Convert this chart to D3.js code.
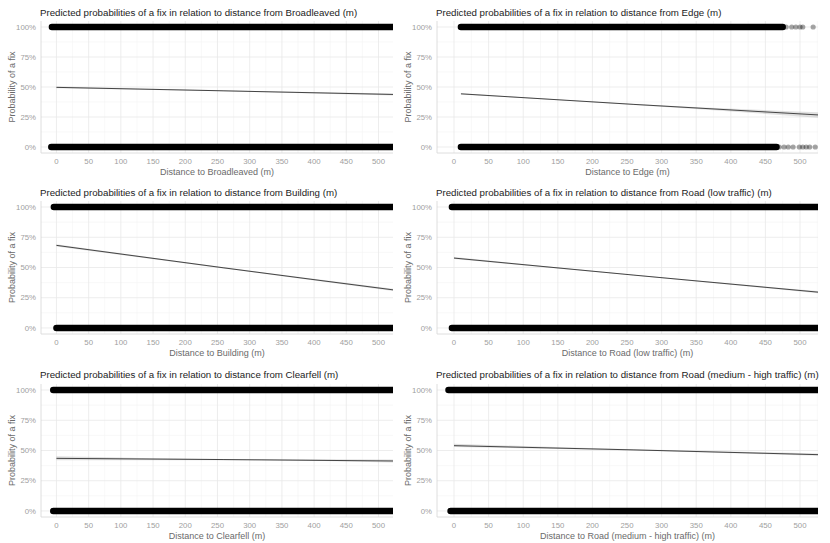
<!DOCTYPE html>
<html>
<head>
<meta charset="utf-8">
<script src="https://cdn.jsdelivr.net/npm/d3@7"></script>
<style>
  body { margin: 0; background: #fff; }
  text { font-family: "Liberation Sans", Arial, sans-serif; }
</style>
</head>
<body>
<div id="chart"></div>
<script>
// predictor names, one per panel (row by row)
const predictors = ["Broadleaved", "Edge", "Building", "Road (low traffic)", "Clearfell", "Road (medium - high traffic)"];

// fitted curve: x, fitted probability, lower and upper band
const predX = [
  [0, 260, 530], [10, 260, 530], [0, 260, 530],
  [0, 260, 530], [0, 260, 530], [0, 260, 530]
];
const predFit = [
  [0.497, 0.468, 0.437], [0.443, 0.355, 0.266], [0.683, 0.497, 0.310],
  [0.578, 0.437, 0.294], [0.435, 0.425, 0.413], [0.540, 0.505, 0.465]
];
const predLo = [
  [0.489, 0.464, 0.429], [0.438, 0.351, 0.243], [0.673, 0.492, 0.300],
  [0.570, 0.433, 0.285], [0.420, 0.420, 0.400], [0.528, 0.500, 0.455]
];
const predHi = [
  [0.505, 0.472, 0.445], [0.448, 0.359, 0.289], [0.693, 0.502, 0.320],
  [0.586, 0.441, 0.303], [0.452, 0.430, 0.426], [0.555, 0.510, 0.475]
];

// extent of the dense runs of observed fixes (1) and no-fixes (0)
const fixRuns = [[-7, 540], [10, 475], [-4, 540], [-3, 540], [-5, 540], [-8, 540]];
const noFixRuns = [[-8, 540], [10, 466], [0, 540], [-3, 540], [-5, 540], [-5, 540]];

// sparse tail points in the Edge panel
const edgeFixTail = [480, 488, 494, 500, 504, 519];
const edgeNoFixTail = [470, 477, 483, 490, 499, 504, 509, 514, 522];

const yTicks = [0, 0.25, 0.5, 0.75, 1];
const xTicks = d3.range(0, 501, 50);

const W = 830, H = 543;
const cols = [
  { x0: 41, x1: 393, dom: [-24, 522.5] },
  { x0: 437, x1: 818, dom: [-24.6, 526] }
];
const rows = [
  { top: 21, bottom: 153, title: 16 },
  { top: 201, bottom: 334, title: 196 },
  { top: 384, bottom: 517, title: 378 }
];

const svg = d3.select("#chart").append("svg")
  .attr("width", W).attr("height", H)
  .attr("viewBox", [0, 0, W, H]);

predictors.forEach((name, i) => {
  const c = cols[i % 2], r = rows[Math.floor(i / 2)];
  const x = d3.scaleLinear().domain(c.dom).range([c.x0, c.x1]);
  const y = d3.scaleLinear().domain([-0.05, 1.05]).range([r.bottom, r.top]);
  const g = svg.append("g");

  const clipId = `clip${i}`;
  svg.append("clipPath").attr("id", clipId)
    .append("rect")
    .attr("x", c.x0).attr("y", r.top)
    .attr("width", c.x1 - c.x0).attr("height", r.bottom - r.top);

  // minor grid
  const xMinor = d3.range(-25, 530, 50).filter(v => v > c.dom[0] && v < c.dom[1]);
  const yMinor = [-0.125, 0.125, 0.375, 0.625, 0.875, 1.125].filter(v => v > -0.05 && v < 1.05);
  g.append("g").selectAll("line").data(xMinor).join("line")
    .attr("x1", d => x(d)).attr("x2", d => x(d))
    .attr("y1", r.top).attr("y2", r.bottom)
    .attr("stroke", "#f3f3f3").attr("stroke-width", 0.6);
  g.append("g").selectAll("line").data(yMinor).join("line")
    .attr("x1", c.x0).attr("x2", c.x1)
    .attr("y1", d => y(d)).attr("y2", d => y(d))
    .attr("stroke", "#f3f3f3").attr("stroke-width", 0.6);
  // major grid
  g.append("g").selectAll("line").data(xTicks).join("line")
    .attr("x1", d => x(d)).attr("x2", d => x(d))
    .attr("y1", r.top).attr("y2", r.bottom)
    .attr("stroke", "#e9e9e9").attr("stroke-width", 0.8);
  g.append("g").selectAll("line").data(yTicks).join("line")
    .attr("x1", c.x0).attr("x2", c.x1)
    .attr("y1", d => y(d)).attr("y2", d => y(d))
    .attr("stroke", "#e9e9e9").attr("stroke-width", 0.8);

  // axis lines (left, bottom)
  g.append("line")
    .attr("x1", c.x0).attr("x2", c.x0).attr("y1", r.top).attr("y2", r.bottom)
    .attr("stroke", "#d6d6d6").attr("stroke-width", 0.8);
  g.append("line")
    .attr("x1", c.x0).attr("x2", c.x1).attr("y1", r.bottom).attr("y2", r.bottom)
    .attr("stroke", "#d6d6d6").attr("stroke-width", 0.8);

  const plot = g.append("g").attr("clip-path", `url(#${clipId})`);

  // observed points: dense runs
  const runs = [[1, fixRuns[i]], [0, noFixRuns[i]]];
  plot.append("g").selectAll("line").data(runs).join("line")
    .attr("x1", d => x(d[1][0])).attr("x2", d => x(d[1][1]))
    .attr("y1", d => y(d[0])).attr("y2", d => y(d[0]))
    .attr("stroke", "#000").attr("stroke-width", 6.5)
    .attr("stroke-linecap", "round");

  if (name === "Edge") {
    const tail = edgeFixTail.map(v => [v, 1]).concat(edgeNoFixTail.map(v => [v, 0]));
    plot.append("g").selectAll("circle").data(tail).join("circle")
      .attr("cx", d => x(d[0])).attr("cy", d => y(d[1]))
      .attr("r", 2.6)
      .attr("fill", "#000").attr("fill-opacity", 0.35);
  }

  // fitted line and band
  const pts = predX[i].map((v, k) => ({ x: v, fit: predFit[i][k], lo: predLo[i][k], hi: predHi[i][k] }));
  plot.append("path").datum(pts)
    .attr("d", d3.area().x(d => x(d.x)).y0(d => y(d.lo)).y1(d => y(d.hi)).curve(d3.curveMonotoneX))
    .attr("fill", "#999").attr("fill-opacity", 0.3);
  plot.append("path").datum(pts)
    .attr("d", d3.line().x(d => x(d.x)).y(d => y(d.fit)).curve(d3.curveMonotoneX))
    .attr("fill", "none").attr("stroke", "#333").attr("stroke-width", 0.9);

  // tick labels
  g.append("g").selectAll("text").data(xTicks).join("text")
    .attr("x", d => x(d)).attr("y", r.bottom + 11)
    .attr("text-anchor", "middle")
    .attr("font-size", 7.8).attr("fill", "#a0a0a0")
    .text(d => d);
  g.append("g").selectAll("text").data(yTicks).join("text")
    .attr("x", c.x0 - 5).attr("y", d => y(d) + 2.7)
    .attr("text-anchor", "end")
    .attr("font-size", 7.8).attr("fill", "#a0a0a0")
    .text(d => d3.format(".0%")(d));

  // axis titles
  g.append("text")
    .attr("x", (c.x0 + c.x1) / 2).attr("y", r.bottom + 22)
    .attr("text-anchor", "middle")
    .attr("font-size", 9).attr("fill", "#6a6a6a")
    .text(`Distance to ${name} (m)`);
  g.append("text")
    .attr("transform", `translate(${c.x0 - 26},${(r.top + r.bottom) / 2}) rotate(-90)`)
    .attr("text-anchor", "middle")
    .attr("font-size", 9).attr("fill", "#6a6a6a")
    .text("Probability of a fix");

  // title
  g.append("text")
    .attr("x", c.x0 - 1).attr("y", r.title)
    .attr("font-size", 9.7).attr("fill", "#222")
    .text(`Predicted probabilities of a fix in relation to distance from ${name} (m)`);
});
</script>
</body>
</html>
